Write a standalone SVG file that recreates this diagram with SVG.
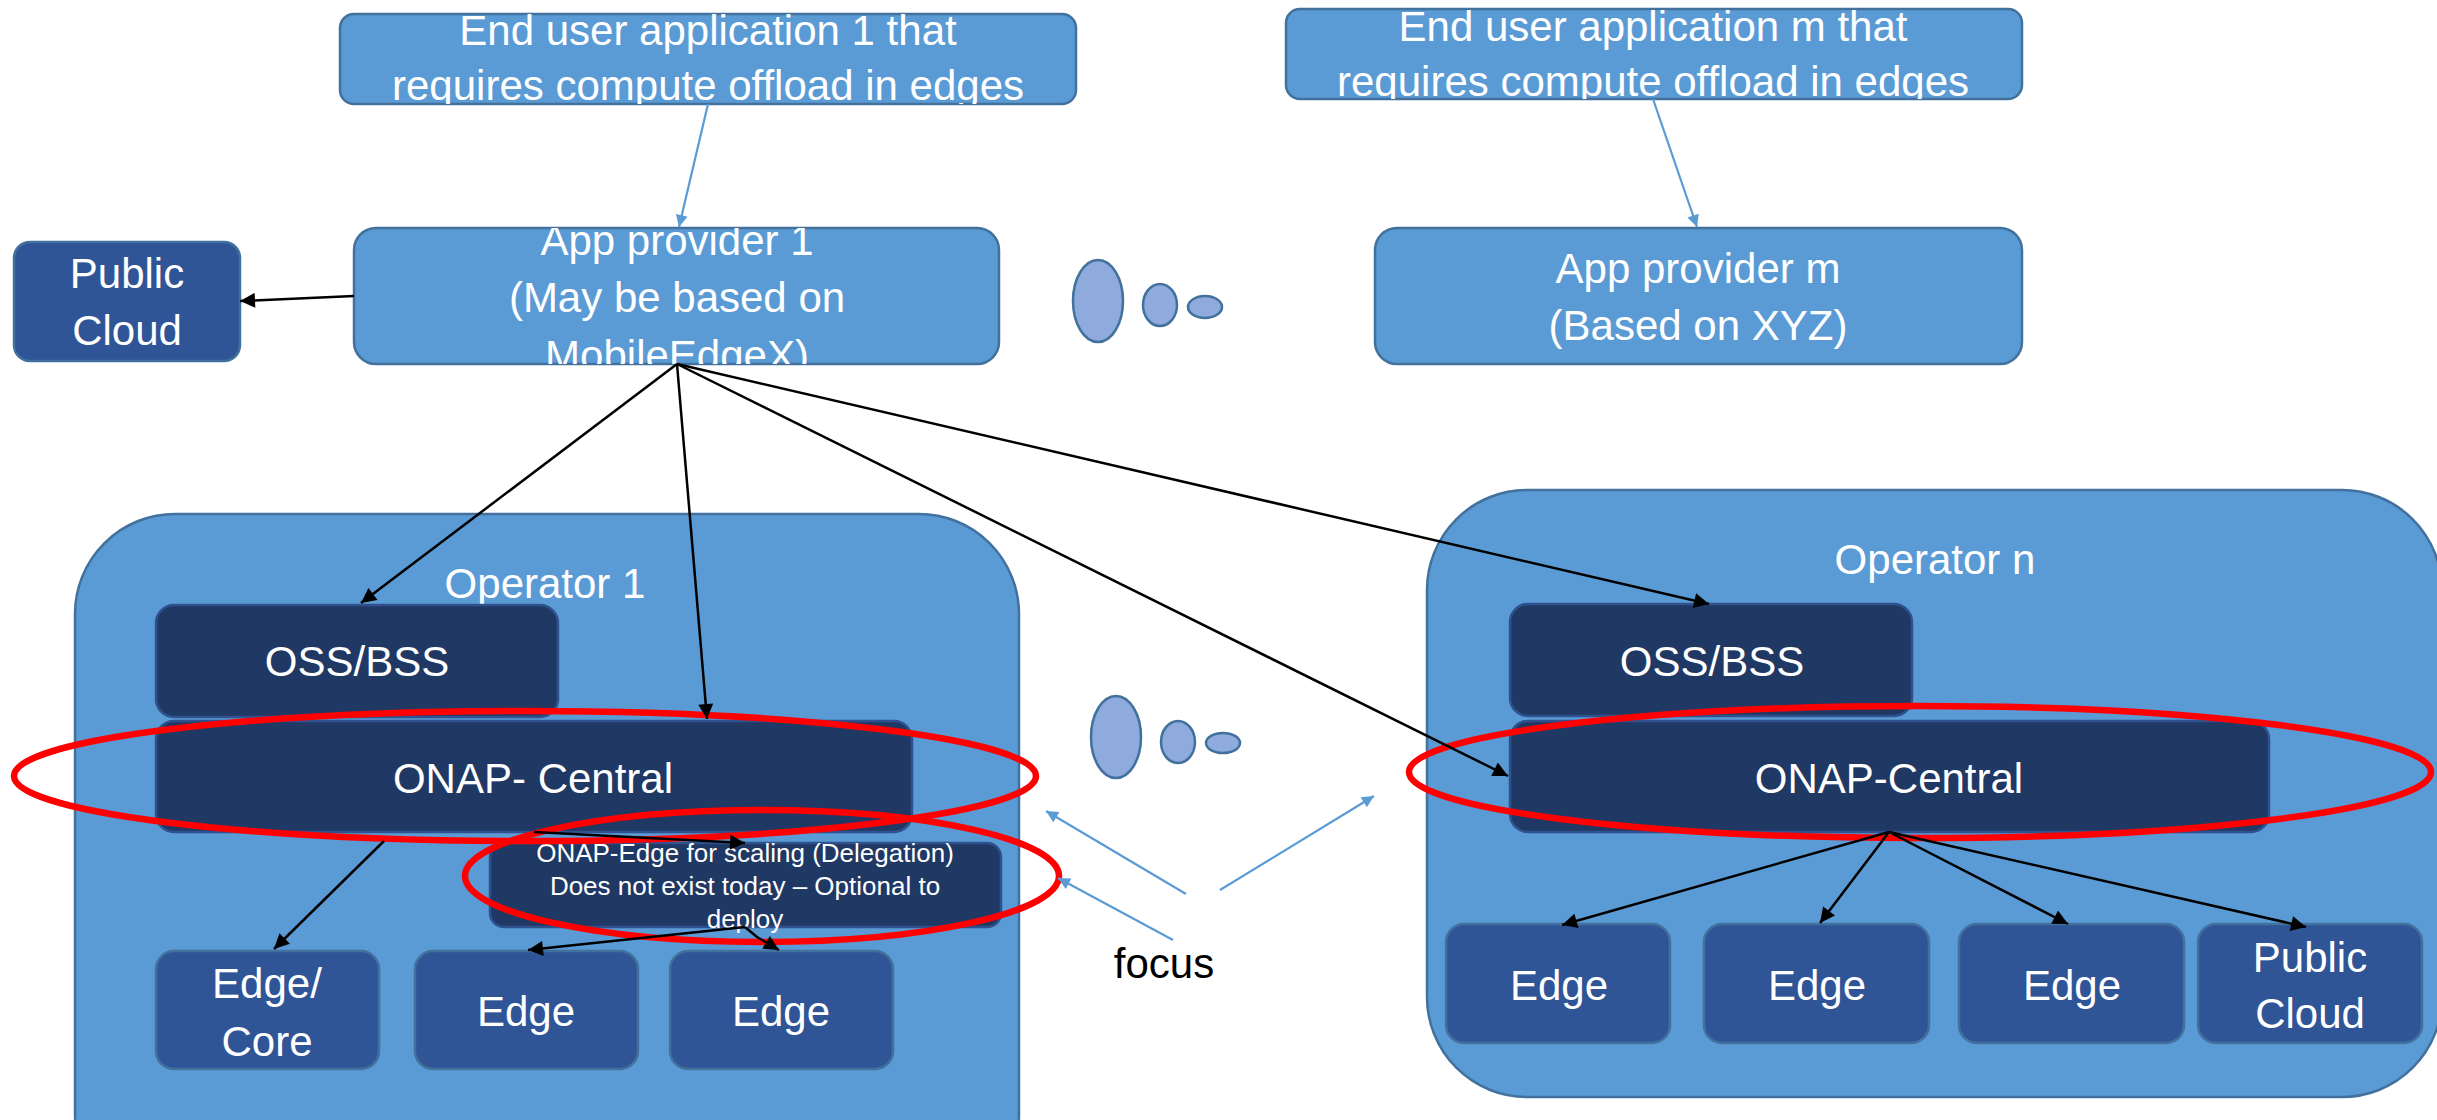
<svg xmlns="http://www.w3.org/2000/svg" width="2437" height="1120" viewBox="0 0 2437 1120">
<style>
.lb{fill:#5B9BD5;stroke:#41719C;stroke-width:2.5}
.db{fill:#203864;stroke:#2F528F;stroke-width:2.5}
.eb{fill:#2F5597;stroke:#41719C;stroke-width:2.5}
.dot{fill:#8FAADC;stroke:#41719C;stroke-width:2.5}
.red{fill:none;stroke:#FF0000;stroke-width:6.5}
text{font-family:"Liberation Sans",Arial,sans-serif;text-anchor:middle;fill:#FFFFFF;font-size:42px}
.sm{font-size:26px}
.blk{stroke:#000;stroke-width:2.5;fill:none;marker-end:url(#ab)}
.blu{stroke:#5B9BD5;stroke-width:2.2;fill:none;marker-end:url(#au)}
</style>
<defs>
<marker id="ab" viewBox="0 0 10 10" refX="10" refY="5" markerUnits="userSpaceOnUse" markerWidth="18" markerHeight="15" orient="auto"><path d="M0,0L10,5L0,10z" fill="#000"/></marker>
<marker id="au" viewBox="0 0 10 10" refX="10" refY="5" markerUnits="userSpaceOnUse" markerWidth="15" markerHeight="12" orient="auto"><path d="M0,0L10,5L0,10z" fill="#5B9BD5"/></marker>
<clipPath id="c1"><rect x="340" y="14" width="736" height="90"/></clipPath>
<clipPath id="c2"><rect x="1286" y="9" width="736" height="90"/></clipPath>
<clipPath id="c3"><rect x="354" y="228" width="645" height="136"/></clipPath>
</defs>

<g id="operator1">
<rect class="lb" x="75" y="514" width="944" height="700" rx="100" ry="100"/>
<text x="545" y="598">Operator 1</text>
</g>
<g id="operatorn">
<rect class="lb" x="1427" y="490" width="1015" height="607" rx="100" ry="100"/>
<text x="1935" y="574">Operator n</text>
</g>

<g id="enduser1">
<rect class="lb" x="340" y="14" width="736" height="90" rx="14"/>
<g clip-path="url(#c1)"><text x="708" y="45">End user application 1 that</text><text x="708" y="100">requires compute offload in edges</text></g>
</g>
<g id="enduserm">
<rect class="lb" x="1286" y="9" width="736" height="90" rx="14"/>
<g clip-path="url(#c2)"><text x="1653" y="41">End user application m that</text><text x="1653" y="96">requires compute offload in edges</text></g>
</g>
<g id="appprovider1">
<rect class="lb" x="354" y="228" width="645" height="136" rx="22"/>
<g clip-path="url(#c3)"><text x="677" y="255">App provider 1</text><text x="677" y="312">(May be based on</text><text x="677" y="370">MobileEdgeX)</text></g>
</g>
<g id="appproviderm">
<rect class="lb" x="1375" y="228" width="647" height="136" rx="22"/>
<text x="1698" y="283">App provider m</text><text x="1698" y="340">(Based on XYZ)</text>
</g>
<g id="publiccloud1">
<rect class="eb" x="14" y="242" width="226" height="119" rx="16"/>
<text x="127" y="288">Public</text><text x="127" y="345">Cloud</text>
</g>

<g id="dots-top">
<ellipse class="dot" cx="1098" cy="301" rx="25" ry="41"/>
<ellipse class="dot" cx="1160" cy="305" rx="17" ry="21"/>
<ellipse class="dot" cx="1205" cy="307" rx="17" ry="11"/>
</g>
<g id="dots-mid">
<ellipse class="dot" cx="1116" cy="737" rx="25" ry="41"/>
<ellipse class="dot" cx="1178" cy="742" rx="17" ry="21"/>
<ellipse class="dot" cx="1223" cy="743" rx="17" ry="10"/>
</g>

<g id="oss1"><rect class="db" x="156" y="605" width="402" height="112" rx="18"/><text x="357" y="676">OSS/BSS</text></g>
<g id="onapc1"><rect class="db" x="156" y="721" width="756" height="111" rx="18"/><text x="533" y="793">ONAP- Central</text></g>
<g id="onapedge"><rect class="db" x="490" y="843" width="511" height="84" rx="14"/>
<text class="sm" x="745" y="862">ONAP-Edge for scaling (Delegation)</text>
<text class="sm" x="745" y="895">Does not exist today – Optional to</text>
<text class="sm" x="745" y="928">deploy</text></g>
<g id="edgecore"><rect class="eb" x="156" y="951" width="223" height="118" rx="18"/><text x="267" y="998">Edge/</text><text x="267" y="1056">Core</text></g>
<g id="edge1b"><rect class="eb" x="415" y="951" width="223" height="118" rx="18"/><text x="526" y="1026">Edge</text></g>
<g id="edge1c"><rect class="eb" x="670" y="951" width="223" height="118" rx="18"/><text x="781" y="1026">Edge</text></g>

<g id="ossn"><rect class="db" x="1510" y="604" width="402" height="112" rx="18"/><text x="1712" y="676">OSS/BSS</text></g>
<g id="onapcn"><rect class="db" x="1510" y="721" width="759" height="111" rx="18"/><text x="1889" y="793">ONAP-Central</text></g>
<g id="edgena"><rect class="eb" x="1446" y="924" width="224" height="119" rx="18"/><text x="1559" y="1000">Edge</text></g>
<g id="edgenb"><rect class="eb" x="1704" y="924" width="225" height="119" rx="18"/><text x="1817" y="1000">Edge</text></g>
<g id="edgenc"><rect class="eb" x="1959" y="924" width="225" height="119" rx="18"/><text x="2072" y="1000">Edge</text></g>
<g id="publiccloudn"><rect class="eb" x="2198" y="924" width="224" height="119" rx="18"/><text x="2310" y="972">Public</text><text x="2310" y="1028">Cloud</text></g>

<g id="focus"><text x="1164" y="978" style="fill:#000">focus</text></g>

<g id="highlights">
<ellipse class="red" cx="525" cy="776" rx="511" ry="65"/>
<ellipse class="red" cx="762" cy="876" rx="297" ry="66"/>
<ellipse class="red" cx="1920" cy="772" rx="511" ry="66"/>
</g>

<g id="connectors">
<line class="blu" x1="708" y1="104" x2="679" y2="227"/>
<line class="blu" x1="1653" y1="99" x2="1697" y2="227"/>
<line class="blu" x1="1186" y1="894" x2="1046" y2="811"/>
<line class="blu" x1="1173" y1="940" x2="1058" y2="878"/>
<line class="blu" x1="1220" y1="890" x2="1374" y2="796"/>
<line class="blk" x1="354" y1="296" x2="240" y2="301"/>
<line class="blk" x1="677" y1="364" x2="361" y2="603"/>
<line class="blk" x1="677" y1="364" x2="707" y2="719"/>
<line class="blk" x1="677" y1="364" x2="1709" y2="604"/>
<line class="blk" x1="677" y1="364" x2="1508" y2="776"/>
<line class="blk" x1="384" y1="841" x2="274" y2="949"/>
<line class="blk" x1="534" y1="832" x2="745" y2="843"/>
<line class="blk" x1="745" y1="927" x2="528" y2="950"/>
<polyline class="blk" points="745,927 757,937 779,950"/>
<line class="blk" x1="1889" y1="832" x2="1562" y2="925"/>
<line class="blk" x1="1889" y1="832" x2="1820" y2="923"/>
<line class="blk" x1="1889" y1="832" x2="2068" y2="924"/>
<line class="blk" x1="1889" y1="832" x2="2306" y2="927"/>
</g>
</svg>
